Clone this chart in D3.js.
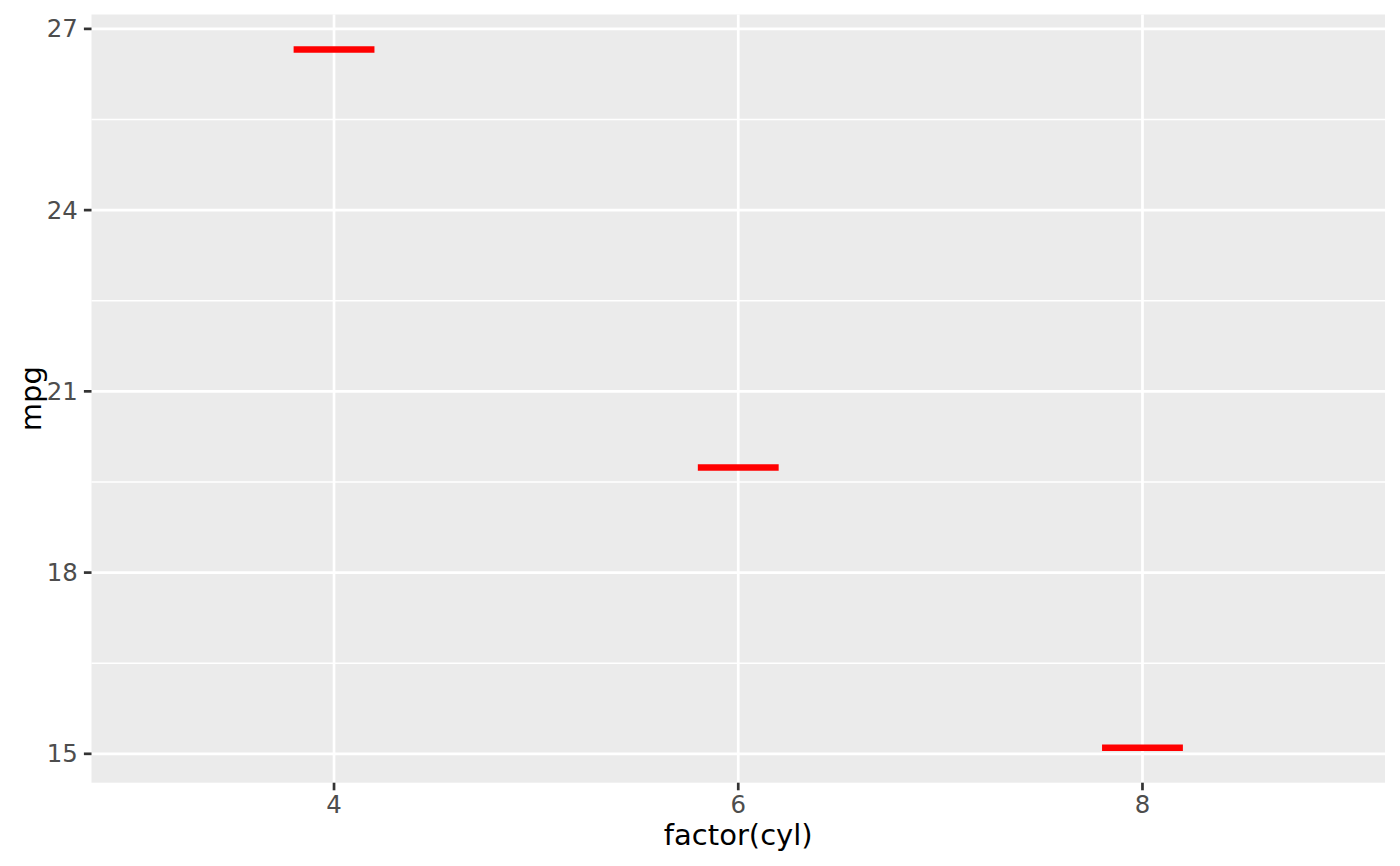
<!DOCTYPE html>
<html><head><meta charset="utf-8">
<script src="https://cdn.jsdelivr.net/npm/d3@7"></script>
<style>body{margin:0;background:#fff}svg{display:block}text{font-family:"DejaVu Sans",sans-serif}</style>
</head><body>
<svg id="c" width="1400" height="866"></svg>
<script>
const categories = ["4", "6", "8"];
const meanMpg = [26.66, 19.74, 15.10];
const yTicks = [15, 18, 21, 24, 27];
const yMinor = [16.5, 19.5, 22.5, 25.5];

const svg = d3.select("#c");
const L = 91.5, R = 1385, T = 14.5, B = 782.7;
const lo = d3.min(meanMpg), hi = d3.max(meanMpg), pad = (hi - lo) * 0.05;
const y = d3.scaleLinear().domain([lo - pad, hi + pad]).range([B, T]);
const xi = d3.scaleLinear().domain([0.4, categories.length + 0.6]).range([L, R]);
const x = c => xi(categories.indexOf(c) + 1);

svg.append("rect").attr("x", L).attr("y", T).attr("width", R - L).attr("height", B - T).attr("fill", "#EBEBEB");
const g = svg.append("g");
g.selectAll(".mn").data(yMinor).join("line").attr("x1", L).attr("x2", R)
  .attr("y1", d => y(d)).attr("y2", d => y(d)).attr("stroke", "#fff").attr("stroke-width", 1.4);
g.selectAll(".mj").data(yTicks).join("line").attr("x1", L).attr("x2", R)
  .attr("y1", d => y(d)).attr("y2", d => y(d)).attr("stroke", "#fff").attr("stroke-width", 2.7);
g.selectAll(".vx").data(categories).join("line").attr("y1", T).attr("y2", B)
  .attr("x1", d => x(d)).attr("x2", d => x(d)).attr("stroke", "#fff").attr("stroke-width", 2.7);

// mean segments
const data = categories.map((c, i) => ({c, v: meanMpg[i]}));
svg.selectAll(".seg").data(data).join("line")
  .attr("x1", d => xi(categories.indexOf(d.c) + 1 - 0.1))
  .attr("x2", d => xi(categories.indexOf(d.c) + 1 + 0.1))
  .attr("y1", d => y(d.v)).attr("y2", d => y(d.v))
  .attr("stroke", "red").attr("stroke-width", 6.5);

// axes
const tickLen = 7.6;
const ya = svg.append("g");
ya.selectAll("line").data(yTicks).join("line").attr("x1", L - tickLen).attr("x2", L)
  .attr("y1", d => y(d)).attr("y2", d => y(d)).attr("stroke", "#333").attr("stroke-width", 2.7);
ya.selectAll("text").data(yTicks).join("text").attr("x", L - tickLen - 6.1).attr("y", d => y(d))
  .attr("text-anchor", "end").attr("dominant-baseline", "central").attr("fill", "#4D4D4D")
  .attr("font-size", 24.4).text(d => d);
const xa = svg.append("g");
xa.selectAll("line").data(categories).join("line").attr("y1", B).attr("y2", B + tickLen)
  .attr("x1", d => x(d)).attr("x2", d => x(d)).attr("stroke", "#333").attr("stroke-width", 2.7);
xa.selectAll("text").data(categories).join("text").attr("x", d => x(d)).attr("y", 813)
  .attr("text-anchor", "middle").attr("fill", "#4D4D4D").attr("font-size", 24.4).text(d => d);

svg.append("text").attr("x", (L + R) / 2).attr("y", 845).attr("text-anchor", "middle")
  .attr("font-size", 29).attr("fill", "#000").text("factor(cyl)");
svg.append("text").attr("transform", `translate(41,${(T + B) / 2}) rotate(-90)`).attr("text-anchor", "middle")
  .attr("font-size", 29).attr("fill", "#000").text("mpg");
</script>
</body></html>
